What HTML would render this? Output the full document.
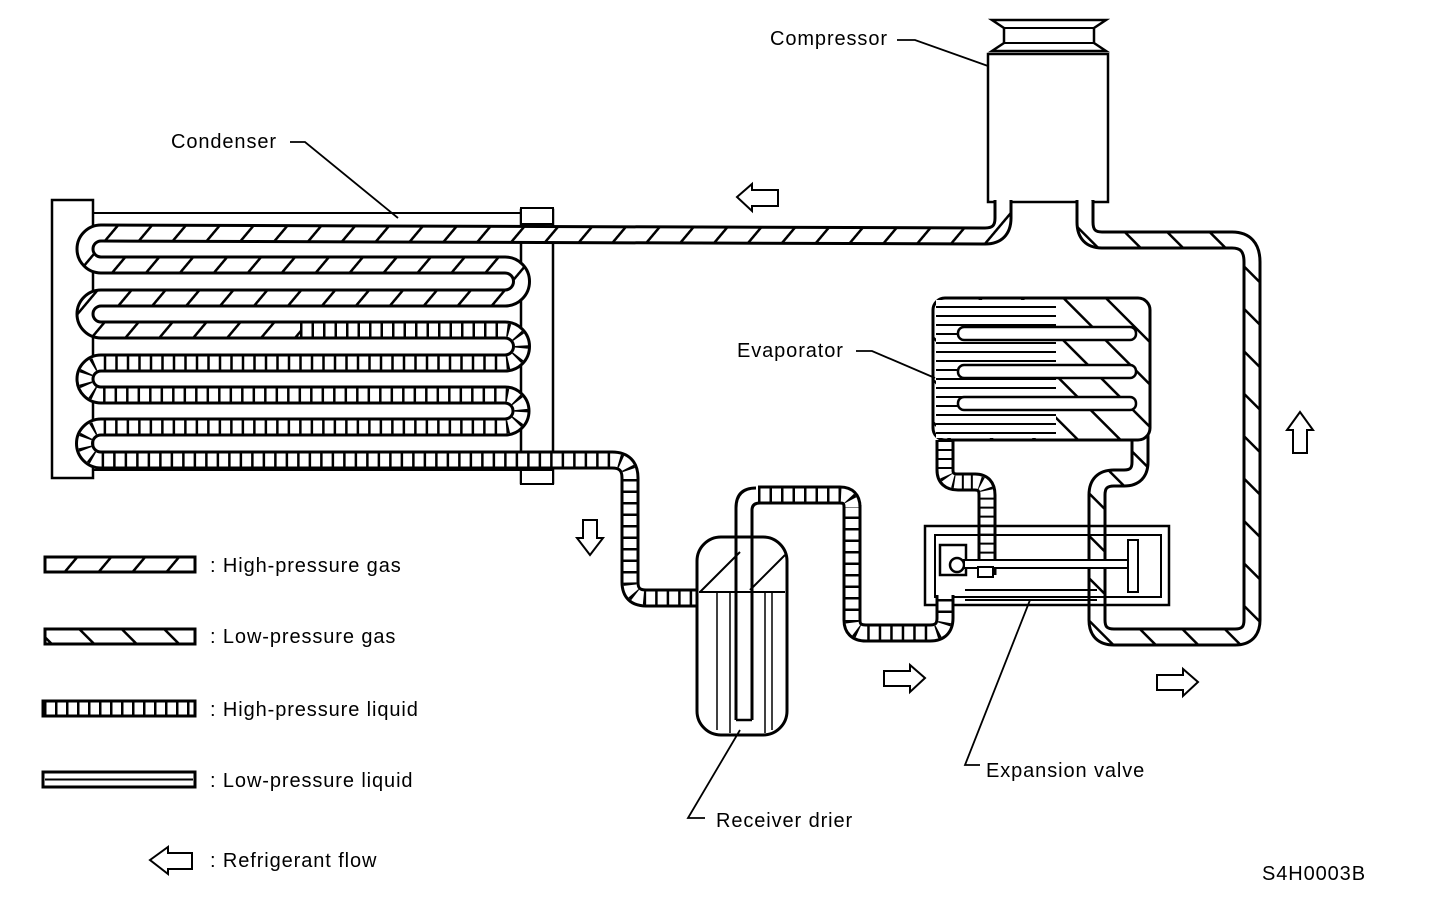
<!DOCTYPE html>
<html><head><meta charset="utf-8"><style>
html,body{margin:0;padding:0;background:#fff}
svg{display:block}
text{font-family:"Liberation Sans",Arial,sans-serif;font-size:20px;letter-spacing:0.9px;fill:#000}
</style></head><body>
<svg width="1456" height="910" viewBox="0 0 1456 910" xmlns="http://www.w3.org/2000/svg">
<defs>
<pattern id="hg" width="26" height="26" patternUnits="userSpaceOnUse" patternTransform="rotate(40)"><rect width="26" height="26" fill="#fff"/><rect width="2.5" height="26" fill="#000"/></pattern>
<pattern id="lg" width="30" height="30" patternUnits="userSpaceOnUse" patternTransform="rotate(-45)"><rect width="30" height="30" fill="#fff"/><rect width="2.5" height="30" fill="#000"/></pattern>
<pattern id="hl" width="11" height="11" patternUnits="userSpaceOnUse"><rect width="11" height="11" fill="#fff"/><rect width="2.5" height="11" fill="#000"/></pattern>
<pattern id="ev" width="8" height="9" patternUnits="userSpaceOnUse"><rect width="8" height="9" fill="#fff"/><rect width="8" height="2" fill="#000"/></pattern>
<path id="gas" fill="none" d="M1003,200 L1003,218 Q1003,236 985,236 L101,233 A16,16 0 0 0 101,265 L505,265 A16.5,16.5 0 0 1 505,298 L101,298 A16,16 0 0 0 101,330 L300,330"/>
<path id="liq" fill="none" d="M300,330 L505,330 A16.5,16.5 0 0 1 505,363 L101,363 A16,16 0 0 0 101,395 L505,395 A16,16 0 0 1 505,427 L101,427 A16.5,16.5 0 0 0 101,460 L612,460 Q630,460 630,478 L630,582 Q630,598 646,598 L705,598"/>
<path id="liq2" fill="none" d="M852,505 L852,620 Q852,633 866,633 L930,633 Q945,633 945,618 L945,595"/>
<path id="liq3" fill="none" d="M758,495 L840,495 Q852,495 852,507"/>
<path id="lpg" fill="none" d="M1140,430 L1140,462 Q1140,478 1124,478 L1114,478 Q1097,478 1097,495 L1097,620 Q1097,637 1114,637 L1235,637 Q1252,637 1252,620 L1252,262 Q1252,240 1232,240 L1102,240 Q1085,240 1085,222 L1085,200"/>
<path id="evl" fill="none" d="M945,440 L945,470 Q945,482 958,482 L975,482 Q987,482 987,495 L987,575"/>
</defs>

<!-- compressor -->
<rect x="988" y="54" width="120" height="148" fill="#fff" stroke="#000" stroke-width="2.5"/>
<path d="M992,20 L1106,20 L1094,28 L1094,43 L1106,51 L992,51 L1004,43 L1004,28 Z" fill="#fff" stroke="#000" stroke-width="2.5"/>
<line x1="1004" y1="28" x2="1094" y2="28" stroke="#000" stroke-width="2"/>
<line x1="1004" y1="43" x2="1094" y2="43" stroke="#000" stroke-width="2"/>

<!-- condenser frame -->
<rect x="93" y="213" width="428" height="257" fill="#fff" stroke="#000" stroke-width="2"/>
<rect x="52" y="200" width="41" height="278" fill="#fff" stroke="#000" stroke-width="2.5"/>
<rect x="521" y="210" width="32" height="273" fill="#fff" stroke="#000" stroke-width="2.5"/>

<!-- tubes -->
<g stroke-linecap="butt" stroke-linejoin="round">
<use href="#gas" stroke="#000" stroke-width="19"/>
<use href="#gas" stroke="url(#hg)" stroke-width="13"/>
<use href="#liq" stroke="#000" stroke-width="19"/>
<use href="#liq" stroke="#fff" stroke-width="13"/>
<use href="#liq" stroke="#000" stroke-width="13" stroke-dasharray="2.5 9"/>
<use href="#lpg" stroke="#000" stroke-width="19"/>
<use href="#lpg" stroke="url(#lg)" stroke-width="13"/>
</g>
<rect x="521" y="208" width="32" height="16" fill="#fff" stroke="#000" stroke-width="2"/>
<rect x="521" y="470" width="32" height="14" fill="#fff" stroke="#000" stroke-width="2"/>

<!-- evaporator -->
<rect x="933" y="298" width="217" height="142" rx="12" fill="url(#lg)" stroke="#000" stroke-width="3"/>
<rect x="936" y="300" width="120" height="138" fill="url(#ev)"/>
<rect x="958" y="327" width="178" height="13" rx="6" fill="#fff" stroke="#000" stroke-width="2.5"/>
<rect x="958" y="365" width="178" height="13" rx="6" fill="#fff" stroke="#000" stroke-width="2.5"/>
<rect x="958" y="397" width="178" height="13" rx="6" fill="#fff" stroke="#000" stroke-width="2.5"/>
<g stroke-linejoin="round">
<use href="#evl" stroke="#000" stroke-width="19"/>
<use href="#evl" stroke="#fff" stroke-width="13"/>
<use href="#evl" stroke="#000" stroke-width="13" stroke-dasharray="2 7"/>
</g>

<!-- expansion valve -->
<rect x="925" y="526" width="244" height="79" fill="none" stroke="#000" stroke-width="2.5"/>
<rect x="935" y="535" width="226" height="62" fill="none" stroke="#000" stroke-width="2"/>
<rect x="940" y="545" width="26" height="30" fill="#fff" stroke="#000" stroke-width="2.5"/>
<circle cx="957" cy="565" r="7" fill="#fff" stroke="#000" stroke-width="2.5"/>
<rect x="964" y="560" width="166" height="8" fill="#fff" stroke="#000" stroke-width="2"/>
<rect x="978" y="567" width="15" height="10" fill="#fff" stroke="#000" stroke-width="2"/>
<rect x="1128" y="540" width="10" height="52" fill="#fff" stroke="#000" stroke-width="2"/>
<line x1="965" y1="590" x2="1097" y2="590" stroke="#000" stroke-width="2"/>
<line x1="965" y1="600" x2="1097" y2="600" stroke="#000" stroke-width="2"/>

<!-- receiver drier -->
<rect x="697" y="537" width="90" height="198" rx="24" fill="#fff" stroke="#000" stroke-width="3"/>
<line x1="699" y1="592" x2="785" y2="592" stroke="#000" stroke-width="2"/>
<path d="M700,592 L740,552 M750,590 L785,555" stroke="#000" stroke-width="2"/>
<path d="M717,592 V730 M730,592 V733 M765,592 V733 M772,592 V730" stroke="#000" stroke-width="1.5"/>
<g stroke-linejoin="round">
<use href="#liq2" stroke="#000" stroke-width="19"/>
<use href="#liq2" stroke="#fff" stroke-width="13"/>
<use href="#liq2" stroke="#000" stroke-width="13" stroke-dasharray="2.5 9"/>
<use href="#liq3" stroke="#000" stroke-width="19"/>
<use href="#liq3" stroke="#fff" stroke-width="13"/>
<use href="#liq3" stroke="#000" stroke-width="13" stroke-dasharray="2.5 9"/>
</g>
<path d="M736,720 L736,508 Q736,488 756,488 M752,720 L752,510 Q752,503 760,503" fill="none" stroke="#000" stroke-width="3"/>
<line x1="736" y1="720" x2="752" y2="720" stroke="#000" stroke-width="2.5"/>

<!-- leader lines -->
<g stroke="#000" stroke-width="1.8" fill="none">
<path d="M897,40 L915,40 L988,66"/>
<path d="M290,142 L305,142 L398,218"/>
<path d="M856,351 L872,351 L935,378"/>
<path d="M1030,600 L965,765 L980,765"/>
<path d="M740,730 L688,818 L705,818"/>
</g>

<!-- flow arrows -->
<g fill="#fff" stroke="#000" stroke-width="2">
<path d="M737,197 L752,184 L752,190 L778,190 L778,206 L752,206 L752,211 Z"/>
<path d="M150,860 L168,847 L168,853 L192,853 L192,869 L168,869 L168,874 Z"/>
<path d="M590,555 L577,538 L583,538 L583,520 L597,520 L597,538 L603,538 Z"/>
<path d="M1300,412 L1313,430 L1307,430 L1307,453 L1293,453 L1293,430 L1287,430 Z"/>
<path d="M925,678 L910,665 L910,671 L884,671 L884,686 L910,686 L910,692 Z"/>
<path d="M1198,682 L1183,669 L1183,675 L1157,675 L1157,690 L1183,690 L1183,696 Z"/>
</g>

<!-- legend -->
<rect x="45" y="557" width="150" height="15" fill="url(#hg)" stroke="#000" stroke-width="3"/>
<rect x="45" y="629" width="150" height="15" fill="url(#lg)" stroke="#000" stroke-width="3"/>
<rect x="43" y="701" width="152" height="15" fill="url(#hl)" stroke="#000" stroke-width="3"/>
<rect x="43" y="772" width="152" height="15" fill="#fff" stroke="#000" stroke-width="3"/>
<line x1="45" y1="779.5" x2="193" y2="779.5" stroke="#000" stroke-width="2"/>

<text x="770" y="45">Compressor</text>
<text x="171" y="148">Condenser</text>
<text x="737" y="357">Evaporator</text>
<text x="986" y="777">Expansion valve</text>
<text x="716" y="827">Receiver drier</text>
<text x="210" y="572">: High-pressure gas</text>
<text x="210" y="643">: Low-pressure gas</text>
<text x="210" y="716">: High-pressure liquid</text>
<text x="210" y="787">: Low-pressure liquid</text>
<text x="210" y="867">: Refrigerant flow</text>
<text x="1262" y="880">S4H0003B</text>
</svg>
</body></html>
